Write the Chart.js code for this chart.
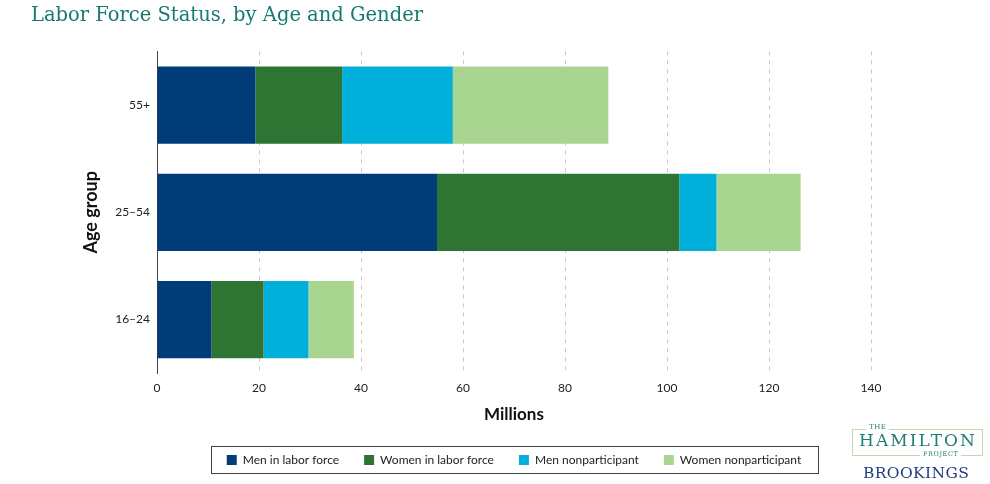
<!DOCTYPE html>
<html>
<head>
<meta charset="utf-8">
<script src="https://cdn.jsdelivr.net/npm/chart.js@4.4.1/dist/chart.umd.min.js"></script>
<style>
  html, body { margin: 0; padding: 0; background: #fff; }
  #wrap { position: relative; width: 990px; height: 484px; }
  #logo { position: absolute; left: 0; top: 0; width: 990px; height: 484px; pointer-events: none; }
  .lbox { position: absolute; left: 852px; top: 429px; width: 129px; height: 25px; border: 1px solid #c3d8ae; }
  .t { position: absolute; font-family: "DejaVu Serif", serif; white-space: nowrap; line-height: 1; }
</style>
</head>
<body>
<div id="wrap">
  <canvas id="c" width="990" height="484"></canvas>
  <div id="logo">
    <div class="lbox"></div>
    <div class="t" style="left:866px; top:424px; font-size:7px; color:#1f7f70; background:#fff; padding:0 3px; letter-spacing:0.5px;">THE</div>
    <div class="t" style="left:859px; top:432px; font-size:17px; color:#1f7f70; letter-spacing:2.1px;">HAMILTON</div>
    <div class="t" style="left:920px; top:451px; font-size:6.5px; color:#1f7f70; background:#fff; padding:0 3px; letter-spacing:0.6px;">PROJECT</div>
    <div class="t" style="left:863px; top:466px; font-size:15.5px; color:#203c7c; letter-spacing:0.4px;">BROOKINGS</div>
  </div>
</div>
<script>
const categories = ['55+', '25\u201354', '16\u201324'];
const menLaborForce = [19.3, 54.9, 10.7];
const womenLaborForce = [17.0, 47.5, 10.2];
const menNonparticipant = [21.7, 7.3, 8.8];
const womenNonparticipant = [30.5, 16.5, 8.9];
const seriesLabels = ['Men in labor force', 'Women in labor force', 'Men nonparticipant', 'Women nonparticipant'];
const seriesColors = ['#003c78', '#2e7534', '#00b0da', '#a8d590'];
const xTicks = [0, 20, 40, 60, 80, 100, 120, 140];

const FONT = 'Lato, "Open Sans", sans-serif';

const legendBorder = {
  id: 'legendBorder',
  afterDraw(chart) {
    const lg = chart.legend;
    if (!lg || !lg.legendHitBoxes || !lg.legendHitBoxes.length) return;
    const hb = lg.legendHitBoxes;
    const left = Math.min(...hb.map(h => h.left)) - 16;
    const right = Math.max(...hb.map(h => h.left + h.width)) + 17;
    const cy = hb[0].top + hb[0].height / 2;
    const ctx = chart.ctx;
    ctx.save();
    ctx.strokeStyle = '#444';
    ctx.lineWidth = 1;
    ctx.strokeRect(Math.round(left) + 0.5, Math.round(cy - 14) + 0.5, Math.round(right - left), 27);
    ctx.restore();
  }
};

const datasets = [menLaborForce, womenLaborForce, menNonparticipant, womenNonparticipant].map((d, i) => ({
  label: seriesLabels[i],
  data: d,
  backgroundColor: seriesColors[i],
  borderWidth: 0,
  categoryPercentage: 1.0,
  barPercentage: 0.72
}));

new Chart(document.getElementById('c'), {
  type: 'bar',
  data: { labels: categories, datasets },
  plugins: [legendBorder],
  options: {
    responsive: false,
    animation: false,
    indexAxis: 'y',
    layout: { padding: { left: 31, right: 119, top: 0, bottom: 8 } },
    plugins: {
      title: {
        display: true,
        text: 'Labor Force Status, by Age and Gender',
        align: 'start',
        color: '#157a70',
        font: { family: '"DejaVu Serif", serif', size: 19.5, weight: 'normal' },
        padding: { top: 4, bottom: 24 }
      },
      legend: {
        position: 'bottom',
        fullSize: false,
        labels: {
          boxWidth: 10,
          boxHeight: 10,
          padding: 25,
          color: '#222',
          font: { family: FONT, size: 12 }
        }
      },
      tooltip: { enabled: false }
    },
    scales: {
      x: {
        stacked: true,
        min: 0,
        max: 140,
        afterBuildTicks(scale) { scale.ticks = xTicks.map(v => ({ value: v })); },
        grid: {
          drawTicks: false,
          color: ctx => (ctx.tick && ctx.tick.value === 0) ? 'rgba(0,0,0,0)' : '#c9c9c9',
          lineWidth: 1
        },
        border: { display: false, dash: [4, 5] },
        ticks: { color: '#222', padding: 8, font: { family: FONT, size: 12 } },
        title: {
          display: true,
          text: 'Millions',
          color: '#111',
          font: { family: FONT, size: 17, weight: 'bold' },
          padding: { top: 1, bottom: 4 }
        }
      },
      y: {
        stacked: true,
        afterFit(scale) { scale.width = 126; },
        grid: { display: false, drawTicks: false },
        border: { display: true, color: '#444', width: 1 },
        ticks: { color: '#222', padding: 7, font: { family: FONT, size: 12 } },
        title: {
          display: true,
          text: 'Age group',
          color: '#111',
          font: { family: FONT, size: 18, weight: 'bold' },
          padding: { top: 49, bottom: 0 }
        }
      }
    }
  }
});
</script>
</body>
</html>
